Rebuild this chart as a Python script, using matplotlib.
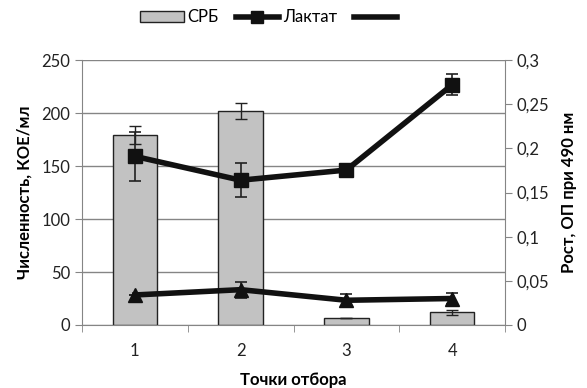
import matplotlib
matplotlib.use("Agg")
import matplotlib.pyplot as plt
from matplotlib.lines import Line2D
from matplotlib.patches import Patch
import numpy as np

plt.rcParams['font.family'] = ['Lato', 'DejaVu Sans']

points = ["1", "2", "3", "4"]
srb = [179, 202, 7, 12]
srb_err = [8.5, 7.5, 0, 2.5]
lactate = [0.191, 0.164, 0.1755, 0.272]
lactate_err = [0.028, 0.019, 0.0, 0.012]
third = [0.034, 0.040, 0.028, 0.030]
third_err = [0.0, 0.009, 0.007, 0.006]

left_ticks = [0, 50, 100, 150, 200, 250]
right_ticks = [0, 0.05, 0.1, 0.15, 0.2, 0.25, 0.3]
right_labels = ["0", "0,05", "0,1", "0,15", "0,2", "0,25", "0,3"]

fig = plt.figure(figsize=(5.87, 3.88), dpi=100)
ax = fig.add_axes([0.1397, 0.1624, 0.7206, 0.6826])
x = np.arange(len(points))

grid_c = "#858585"
ax.set_axisbelow(True)
ax.yaxis.grid(True, color=grid_c, linewidth=1.0)
ax.bar(x, srb, width=0.42, color="#c2c2c2", edgecolor="#222222", linewidth=1.0,
       yerr=srb_err, error_kw=dict(ecolor="#222222", elinewidth=1.0, capsize=4, capthick=1.0),
       zorder=2)
ax.set_xlim(-0.5, 3.5)
ax.set_ylim(0, 250)
ax.set_yticks(left_ticks)
ax.set_xticks(x)
ax.set_xticklabels(points)
ax.set_xticks(np.arange(-0.5, 3.6, 1.0), minor=True)
ax.tick_params(axis='x', which='major', length=0, pad=13, labelsize=12, colors="#222222")
ax.tick_params(axis='x', which='minor', length=5, color=grid_c, direction='out')
ax.tick_params(axis='y', length=5, color=grid_c, labelsize=12, labelcolor="#222222")
for s in ["top", "right"]:
    ax.spines[s].set_visible(False)
for s in ["left", "bottom"]:
    ax.spines[s].set_color(grid_c)
ax.set_ylabel("Численность, КОЕ/мл", fontsize=12, fontweight="bold", labelpad=6)
ax.set_xlabel("Точки отбора", fontsize=12, fontweight="bold", labelpad=9)

ax2 = ax.twinx()
ax2.set_ylim(0, 0.3)
ax2.set_yticks(right_ticks)
ax2.set_yticklabels(right_labels)
ax2.tick_params(axis='y', length=5, color=grid_c, labelsize=12, labelcolor="#222222")
for s in ["top", "left", "bottom"]:
    ax2.spines[s].set_visible(False)
ax2.spines["right"].set_color(grid_c)
ax2.errorbar(x, lactate, yerr=lactate_err, color="#111111", linewidth=4, marker="s",
             markersize=10, ecolor="#222222", elinewidth=1.2, capsize=4, capthick=1.2, zorder=3)
ax2.errorbar(x, third, yerr=third_err, color="#111111", linewidth=4, marker="^",
             markersize=10, ecolor="#222222", elinewidth=1.2, capsize=4, capthick=1.2, zorder=3)
ax2.set_ylabel("Рост, ОП при 490 нм", fontsize=12, fontweight="bold", labelpad=8)

handles = [Patch(facecolor="#c2c2c2", edgecolor="#222222", linewidth=1.0),
           Line2D([], [], color="#111111", linewidth=4, marker="s", markersize=9),
           Line2D([], [], color="#111111", linewidth=4)]
labels = ["СРБ", "Лактат", " "]
fig.legend(handles, labels, loc="center", bbox_to_anchor=(0.465, 0.955), ncol=3,
           frameon=False, fontsize=12, handlelength=2.6, handletextpad=0.25, columnspacing=1.0)

fig.savefig("out.png", dpi=100)
